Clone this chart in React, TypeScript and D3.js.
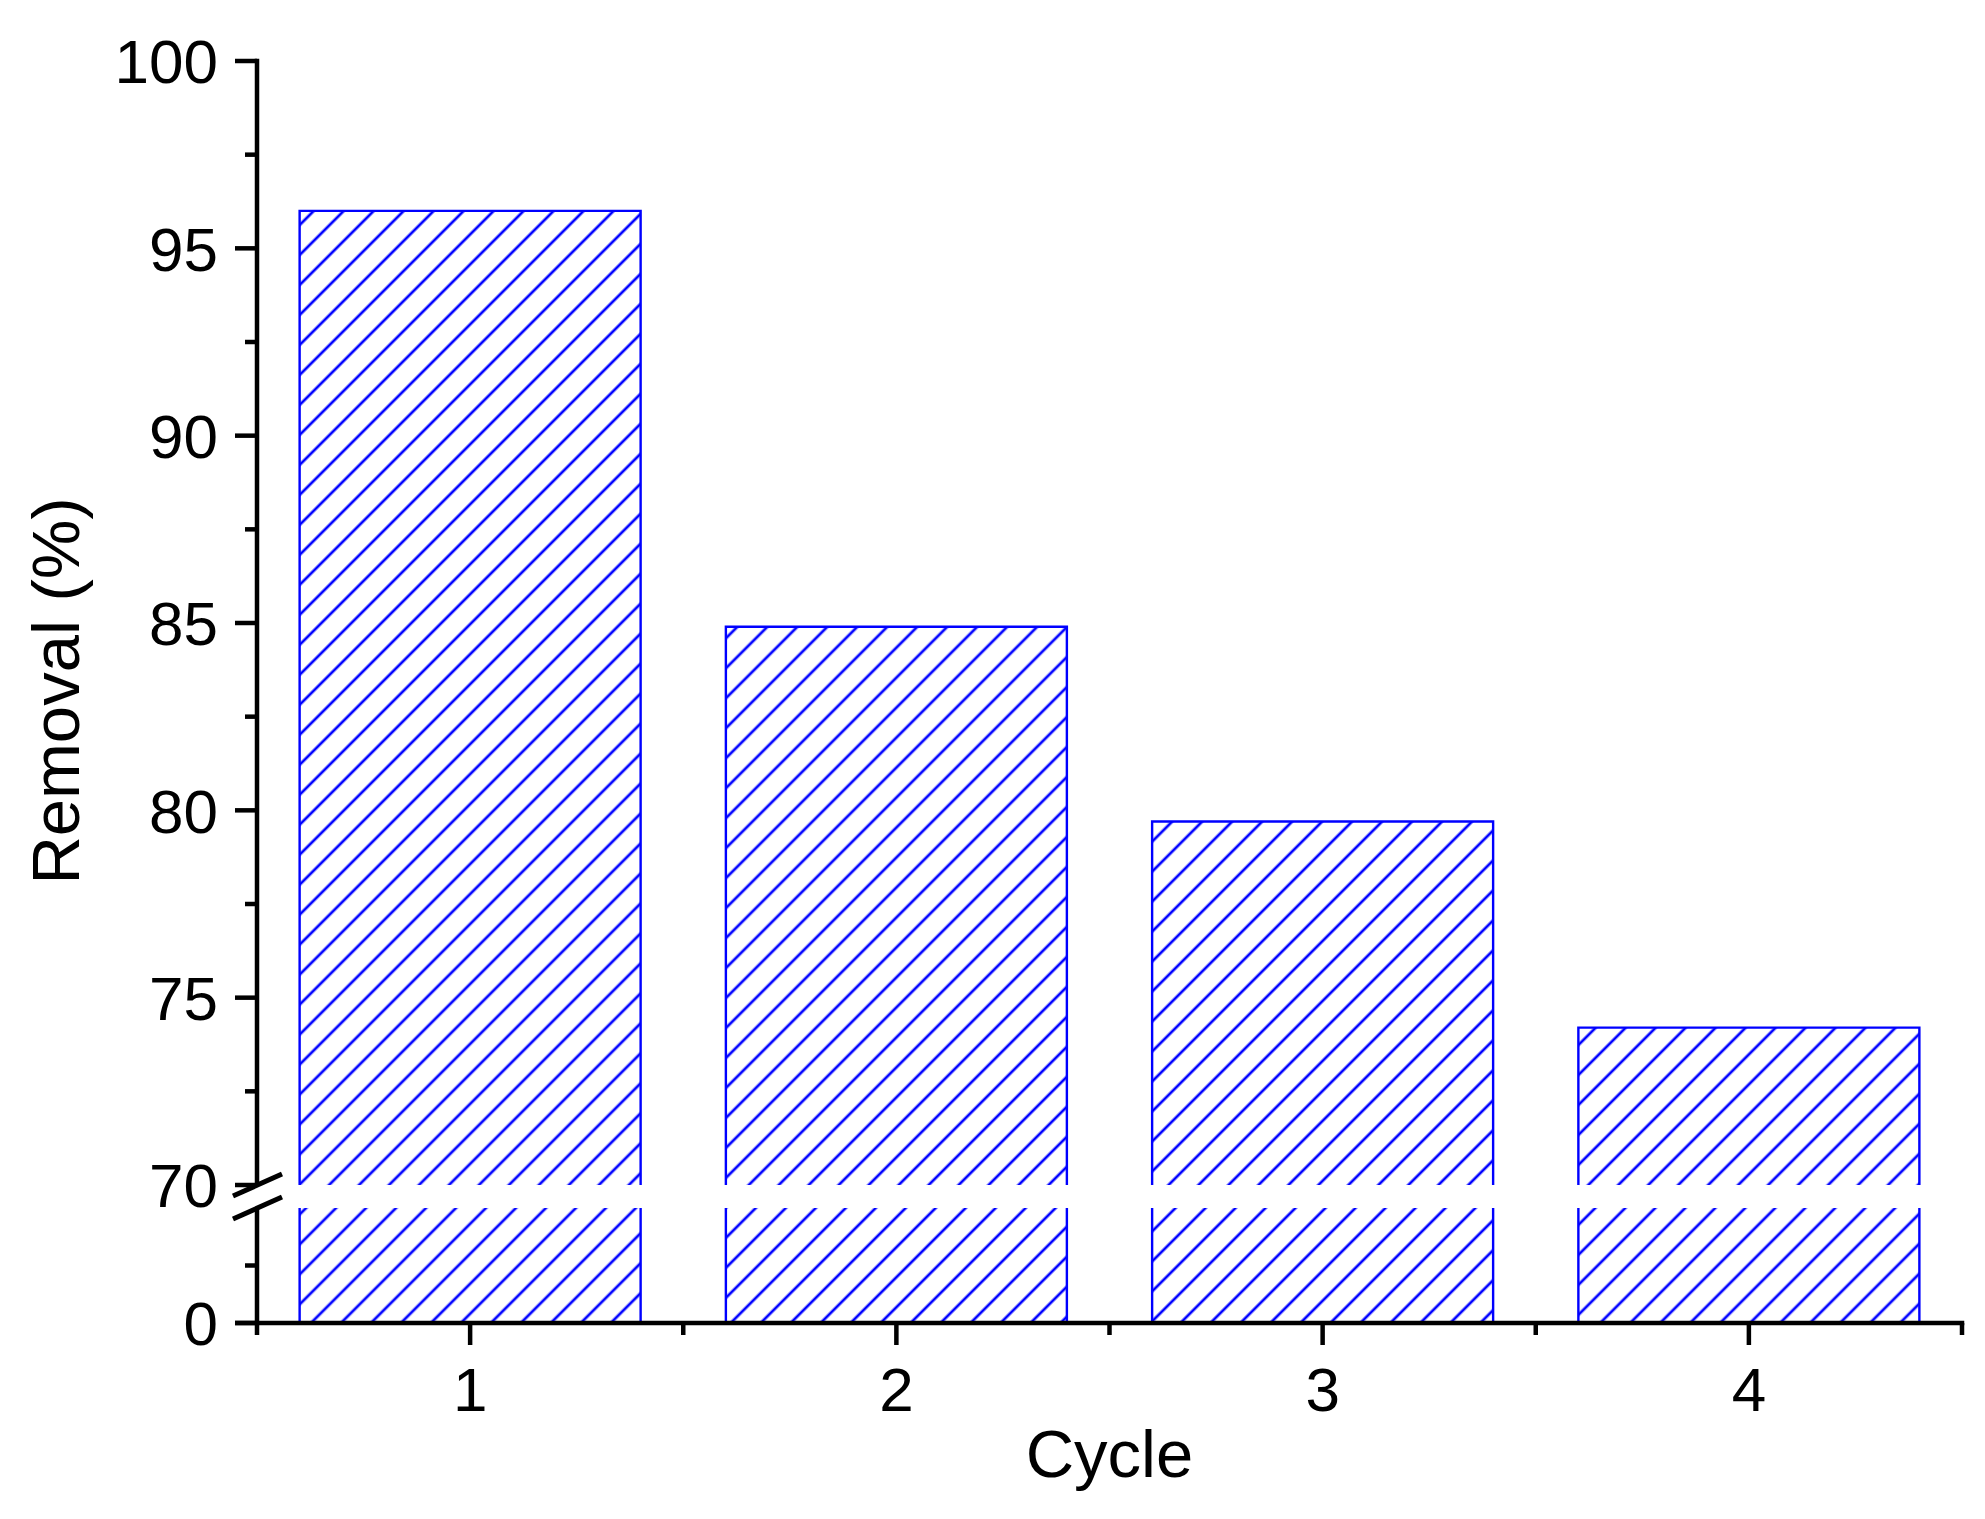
import React from "react";
import * as d3 from "d3";

const categories = ["1", "2", "3", "4"];
const removal = [96.0, 84.9, 79.7, 74.2];
const upperMajorTicks = [70, 75, 80, 85, 90, 95, 100];
const upperMinorTicks = [72.5, 77.5, 82.5, 87.5, 92.5, 97.5];
const lowerMajorTicks = [0];
const lowerMinorTicks = [35];
const xTitle = "Cycle";
const yTitle = "Removal (%)";

const W = 1985;
const H = 1519;
const BLUE = "#0000FF";
const FONT = "'Liberation Sans', Arial, sans-serif";

export default function App() {
  const x = d3.scaleLinear().domain([0.5, 4.5]).range([257, 1962]);
  const yUp = d3.scaleLinear().domain([70, 100]).range([1185, 61]);
  const yLow = d3.scaleLinear().domain([0, 70]).range([1323, 1208]);
  const barW = 0.8;
  const axisX = x(0.5);
  const axisY = yLow(0);
  const breakTop = yUp(70);
  const breakBot = yLow(70);
  const sw = 4.5;
  const major = 22;
  const minor = 12;
  const xMinor = d3.range(0.5, 4.51, 1);

  return (
    <div style={{ position: "absolute", left: 0, top: 0 }}>
      <svg width={W} height={H} style={{ display: "block", background: "#fff" }}>
        <defs>
          <pattern
            id="hatch"
            patternUnits="userSpaceOnUse"
            width={21.2}
            height={21.2}
            patternTransform="rotate(45)"
          >
            <line x1={10.6} y1={-1} x2={10.6} y2={22.2} stroke={BLUE} strokeWidth={2.7} />
          </pattern>
        </defs>
        <rect x={0} y={0} width={W} height={H} fill="#fff" />

        {/* bars */}
        {removal.map((v, i) => {
          const cx = i + 1;
          const x0 = x(cx - barW / 2);
          const x1 = x(cx + barW / 2);
          const top = yUp(v);
          return (
            <g key={i}>
              <rect x={x0} y={top} width={x1 - x0} height={breakTop - top} fill="url(#hatch)" />
              <rect x={x0} y={breakBot} width={x1 - x0} height={axisY - breakBot} fill="url(#hatch)" />
              <path
                d={`M${x0},${breakTop} V${top} H${x1} V${breakTop}`}
                fill="none"
                stroke={BLUE}
                strokeWidth={2.4}
              />
              <path
                d={`M${x0},${breakBot} V${axisY} M${x1},${breakBot} V${axisY}`}
                fill="none"
                stroke={BLUE}
                strokeWidth={2.4}
              />
            </g>
          );
        })}

        {/* y axis upper */}
        <line x1={axisX} x2={axisX} y1={yUp(100) - sw / 2} y2={breakTop} stroke="#000" strokeWidth={sw} />
        {upperMajorTicks.map((t) => (
          <g key={"um" + t}>
            <line x1={axisX - major} x2={axisX} y1={yUp(t)} y2={yUp(t)} stroke="#000" strokeWidth={sw} />
            <text
              x={axisX - 39}
              y={yUp(t)}
              dy="0.36em"
              textAnchor="end"
              fontFamily={FONT}
              fontSize={62}
              fill="#000"
            >
              {t}
            </text>
          </g>
        ))}
        {upperMinorTicks.map((t) => (
          <line key={"un" + t} x1={axisX - minor} x2={axisX} y1={yUp(t)} y2={yUp(t)} stroke="#000" strokeWidth={sw} />
        ))}

        {/* y axis lower */}
        <line x1={axisX} x2={axisX} y1={breakBot} y2={axisY} stroke="#000" strokeWidth={sw} />
        {lowerMajorTicks.map((t) => (
          <g key={"lm" + t}>
            <line x1={axisX - major} x2={axisX} y1={yLow(t)} y2={yLow(t)} stroke="#000" strokeWidth={sw} />
            <text
              x={axisX - 39}
              y={yLow(t)}
              dy="0.36em"
              textAnchor="end"
              fontFamily={FONT}
              fontSize={62}
              fill="#000"
            >
              {t}
            </text>
          </g>
        ))}
        {lowerMinorTicks.map((t) => (
          <line key={"ln" + t} x1={axisX - minor} x2={axisX} y1={yLow(t)} y2={yLow(t)} stroke="#000" strokeWidth={sw} />
        ))}

        {/* break marks */}
        {[breakTop, breakBot].map((yy, i) => (
          <line
            key={"br" + i}
            x1={axisX - 24}
            y1={yy + 11}
            x2={axisX + 25}
            y2={yy - 11}
            stroke="#000"
            strokeWidth={5}
          />
        ))}

        {/* x axis */}
        <line x1={axisX - major} x2={x(4.5) + sw / 2} y1={axisY} y2={axisY} stroke="#000" strokeWidth={sw} />
        {categories.map((c, i) => (
          <g key={"xt" + c}>
            <line x1={x(i + 1)} x2={x(i + 1)} y1={axisY} y2={axisY + major} stroke="#000" strokeWidth={sw} />
            <text
              x={x(i + 1)}
              y={1411}
              textAnchor="middle"
              fontFamily={FONT}
              fontSize={62}
              fill="#000"
            >
              {c}
            </text>
          </g>
        ))}
        {xMinor.map((t) => (
          <line key={"xm" + t} x1={x(t)} x2={x(t)} y1={axisY} y2={axisY + minor} stroke="#000" strokeWidth={sw} />
        ))}

        {/* titles */}
        <text
          x={(x(0.5) + x(4.5)) / 2}
          y={1477}
          textAnchor="middle"
          fontFamily={FONT}
          fontSize={67}
          fill="#000"
        >
          {xTitle}
        </text>
        <text
          transform={`translate(79, 691) rotate(-90)`}
          textAnchor="middle"
          fontFamily={FONT}
          fontSize={67}
          fill="#000"
        >
          {yTitle}
        </text>
      </svg>
    </div>
  );
}
